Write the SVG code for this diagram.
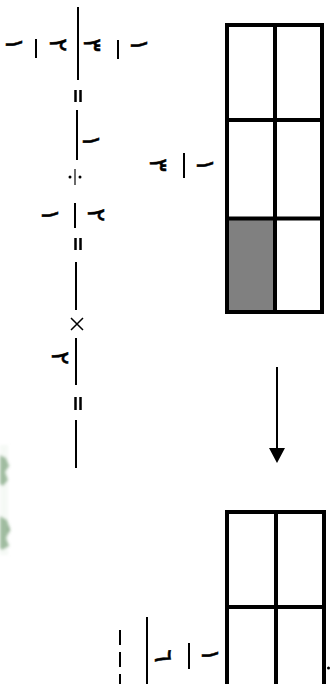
<svg xmlns="http://www.w3.org/2000/svg" width="331" height="684" viewBox="0 0 331 684">
<style>
.d{font-family:"DejaVu Sans",sans-serif;font-size:25px;fill:#000;stroke:#000;stroke-width:0.5;text-anchor:middle}
.b{stroke:#000;stroke-width:2;fill:none}
.e{stroke:#000;stroke-width:2.5;fill:none}
.g{stroke:#000;stroke-width:4;fill:none}
</style>
<defs>
<filter id="blur" x="-50%" y="-50%" width="200%" height="200%"><feGaussianBlur stdDeviation="1.5"/></filter>
</defs>
<rect width="331" height="684" fill="#fff"/>
<g id="smudge" filter="url(#blur)">
<path d="M0 455 L6 458 L9 466 L5 472 L8 480 L3 486 L0 484 Z" fill="#4f7f4f" opacity="0.8"/>
<path d="M0 516 L7 520 L10 530 L6 538 L9 546 L2 550 L0 548 Z" fill="#4f7f4f" opacity="0.8"/>
<rect x="0" y="445" width="8" height="110" fill="#e6efe6" opacity="0.4"/>
</g>
<g id="equation">
<text class="d" transform="translate(6,44) rotate(90)">١</text>
<line class="b" x1="36" y1="39" x2="36" y2="58"/>
<text class="d" transform="translate(50,45) rotate(90)">٢</text>
<line class="b" x1="78" y1="7" x2="78" y2="80"/>
<text class="d" transform="translate(84,45) rotate(90)">٣</text>
<line class="b" x1="118" y1="40" x2="118" y2="59"/>
<text class="d" transform="translate(131,45) rotate(90)">١</text>
<line class="e" x1="75.5" y1="90" x2="75.5" y2="102"/>
<line class="e" x1="80.5" y1="90" x2="80.5" y2="102"/>
<line class="b" x1="77" y1="110" x2="77" y2="160"/>
<text class="d" transform="translate(83,141) rotate(90)">١</text>
<line stroke="#444" stroke-width="1.6" x1="75" y1="169" x2="75" y2="185"/>
<circle cx="70" cy="177" r="1.5"/>
<circle cx="80" cy="177" r="1.5"/>
<text class="d" transform="translate(42,215) rotate(90)">١</text>
<line class="b" x1="75" y1="203" x2="75" y2="228"/>
<text class="d" transform="translate(88,215) rotate(90)">٢</text>
<line class="e" x1="75.5" y1="238" x2="75.5" y2="250"/>
<line class="e" x1="80.5" y1="238" x2="80.5" y2="250"/>
<line class="b" x1="76" y1="262" x2="76" y2="310"/>
<path d="M71 318 L83 330 M83 318 L71 330" stroke="#000" stroke-width="1.5"/>
<line class="b" x1="76" y1="338" x2="76" y2="385"/>
<text class="d" transform="translate(52,358) rotate(90)">٢</text>
<line class="e" x1="75.5" y1="397" x2="75.5" y2="410"/>
<line class="e" x1="80.5" y1="397" x2="80.5" y2="410"/>
<line class="b" x1="76" y1="420" x2="76" y2="468"/>
</g>
<g id="grid1">
<rect class="g" x="227" y="25" width="95" height="287"/>
<rect x="229" y="220" width="45" height="90" fill="#808080"/>
<line class="g" x1="275" y1="25" x2="275" y2="312"/>
<line class="g" x1="227" y1="120" x2="322" y2="120"/>
<line class="g" x1="227" y1="218.5" x2="322" y2="218.5"/>
</g>
<g id="label1">
<text class="d" transform="translate(150,165) rotate(90)">٣</text>
<line class="b" x1="184" y1="153" x2="184" y2="178"/>
<text class="d" transform="translate(197,165) rotate(90)">١</text>
</g>
<g id="connectors">
<line x1="277" y1="367" x2="277" y2="450" stroke="#000" stroke-width="2"/>
<polygon points="269,448 285,448 277,463" fill="#000"/>
</g>
<g id="grid2">
<path class="g" d="M227 690 V512 H324 V690"/>
<line class="g" x1="276" y1="512" x2="276" y2="690"/>
<line class="g" x1="227" y1="607" x2="324" y2="607"/>
<circle cx="328.5" cy="668" r="1.5"/>
</g>
<g id="label2">
<line class="b" x1="120" y1="630" x2="120" y2="684" stroke-dasharray="15 7"/>
<line class="b" x1="147" y1="617" x2="147" y2="684"/>
<text class="d" transform="translate(155,656) rotate(90)">٦</text>
<line class="b" x1="189" y1="643" x2="189" y2="669"/>
<text class="d" transform="translate(202,655) rotate(90)">١</text>
</g>
</svg>
